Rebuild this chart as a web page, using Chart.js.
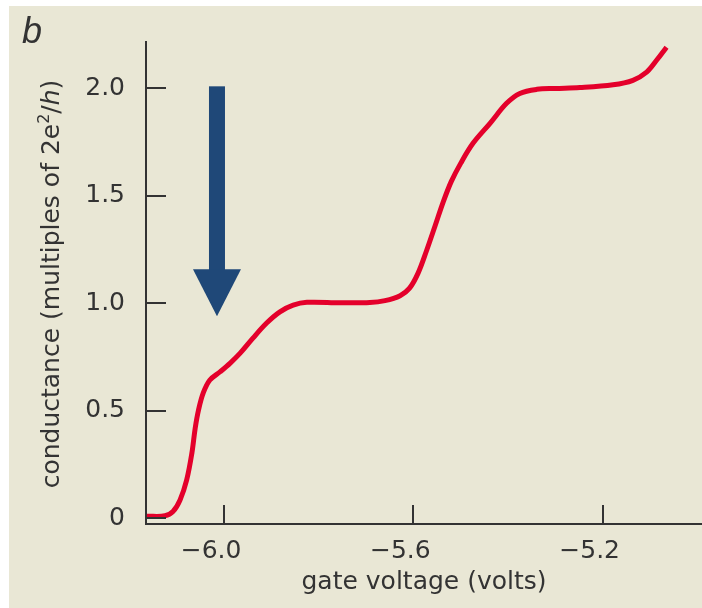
<!DOCTYPE html>
<html>
<head>
<meta charset="utf-8">
<script src="https://cdn.jsdelivr.net/npm/chart.js@4/dist/chart.umd.min.js"></script>
<style>
  html, body { margin: 0; padding: 0; background: #fff; }
  #wrap { width: 702px; height: 608px; }
</style>
</head>
<body>
<div id="wrap"><canvas id="chart" width="702" height="608"></canvas></div>
<script>
// gate voltage (volts) vs conductance (multiples of 2e^2/h)
const voltage = [
    -6.163, -6.125, -6.108, -6.093, -6.079, -6.068, -6.061, -6.054, -6.044, -6.030,
    -6.008, -5.987, -5.966, -5.939, -5.910, -5.882, -5.854, -5.825, -5.755, -5.692,
    -5.660, -5.628, -5.608, -5.590, -5.572, -5.554, -5.537, -5.520, -5.500,
    -5.474, -5.438, -5.403, -5.375, -5.339, -5.300, -5.248, -5.178, -5.136, -5.107,
    -5.086, -5.065
];
const conductance = [
    0.010, 0.012, 0.032, 0.086, 0.179, 0.304, 0.420, 0.504, 0.583, 0.643,
    0.682, 0.722, 0.768, 0.838, 0.908, 0.960, 0.991, 1.004, 1.002, 1.003,
    1.012, 1.035, 1.070, 1.140, 1.245, 1.360, 1.470, 1.565, 1.650,
    1.743, 1.836, 1.929, 1.975, 1.994, 1.998, 2.002, 2.015, 2.036, 2.074,
    2.129, 2.190
];
const xTicks = [-6.0, -5.6, -5.2];
const yTicks = [0, 0.5, 1.0, 1.5, 2.0];

// the blue arrow, in data units
const arrowX = -6.015;
const arrowFrom = 2.008;
const arrowHeadBase = 1.158;
const arrowTo = 0.94;

const INK = '#333333';
const FONT = 'DejaVu Sans';

const points = voltage.map((v, i) => ({ x: v, y: conductance[i] }));

const paperPlugin = {
    id: 'paper',
    beforeDraw(chart) {
        const ctx = chart.ctx;
        ctx.save();
        ctx.fillStyle = '#ffffff';
        ctx.fillRect(0, 0, chart.width, chart.height);
        ctx.fillStyle = '#e9e7d5';
        ctx.fillRect(9, 6, chart.width - 9, chart.height - 6);
        ctx.restore();
    }
};

// ticks point inwards in the original, Chart.js only draws them outwards
const decorPlugin = {
    id: 'decor',
    afterDatasetsDraw(chart) {
        const { ctx, chartArea, scales } = chart;
        const xs = scales.x, ys = scales.y;
        ctx.save();
        ctx.strokeStyle = INK;
        ctx.lineWidth = 2;
        yTicks.forEach(v => {
            const py = Math.round(ys.getPixelForValue(v));
            ctx.beginPath();
            ctx.moveTo(chartArea.left, py);
            ctx.lineTo(chartArea.left + 20, py);
            ctx.stroke();
        });
        xTicks.forEach(v => {
            const px = Math.round(xs.getPixelForValue(v));
            ctx.beginPath();
            ctx.moveTo(px, chartArea.bottom);
            ctx.lineTo(px, chartArea.bottom - 19);
            ctx.stroke();
        });

        // arrow
        const ax = xs.getPixelForValue(arrowX);
        const top = ys.getPixelForValue(arrowFrom);
        const base = ys.getPixelForValue(arrowHeadBase);
        const tip = ys.getPixelForValue(arrowTo);
        ctx.fillStyle = '#1f4878';
        ctx.fillRect(ax - 8, top, 16, base - top + 1);
        ctx.beginPath();
        ctx.moveTo(ax - 24, base);
        ctx.lineTo(ax + 24, base);
        ctx.lineTo(ax, tip);
        ctx.closePath();
        ctx.fill();
        ctx.restore();
    },
    afterDraw(chart) {
        const ctx = chart.ctx;
        ctx.save();
        ctx.fillStyle = INK;

        // panel letter
        ctx.font = 'italic 36px "Liberation Sans"';
        ctx.textBaseline = 'alphabetic';
        ctx.textAlign = 'left';
        ctx.fillText('b', 22, 43);

        // y axis title with superscript and italic h
        const parts = [
            { t: 'conductance (multiples of 2e', f: `25px "${FONT}"`, dy: 0 },
            { t: '2', f: `16px "${FONT}"`, dy: -10 },
            { t: '/', f: `25px "${FONT}"`, dy: 0 },
            { t: 'h', f: `italic 25px "${FONT}"`, dy: 0 },
            { t: ')', f: `25px "${FONT}"`, dy: 0 }
        ];
        let total = 0;
        parts.forEach(p => { ctx.font = p.f; p.w = ctx.measureText(p.t).width; total += p.w; });
        const cy = 284;
        ctx.translate(59, cy);
        ctx.rotate(-Math.PI / 2);
        let x = -total / 2;
        parts.forEach(p => {
            ctx.font = p.f;
            ctx.fillText(p.t, x, p.dy);
            x += p.w;
        });
        ctx.restore();
    }
};

const ctx = document.getElementById('chart').getContext('2d');
new Chart(ctx, {
    type: 'scatter',
    data: {
        datasets: [{
            data: points,
            showLine: true,
            borderColor: '#e4002b',
            borderWidth: 5,
            pointRadius: 0,
            tension: 0.35,
            fill: false
        }]
    },
    options: {
        responsive: false,
        animation: false,
        devicePixelRatio: 1,
        layout: { padding: { top: 42, left: 0, right: 0, bottom: 0 } },
        plugins: {
            legend: { display: false },
            tooltip: { enabled: false }
        },
        scales: {
            x: {
                type: 'linear',
                min: -6.165,
                max: -4.99,
                afterBuildTicks: scale => { scale.ticks = xTicks.map(v => ({ value: v })); },
                afterFit: scale => { scale.height = 84; },
                grid: { drawOnChartArea: false, drawTicks: false },
                border: { display: true, color: INK, width: 2 },
                ticks: {
                    padding: 12,
                    labelOffset: -13,
                    maxRotation: 0,
                    autoSkip: false,
                    color: INK,
                    font: { family: FONT, size: 25 },
                    callback: v => '\u2212' + Math.abs(v).toFixed(1)
                },
                title: {
                    display: true,
                    text: 'gate voltage (volts)',
                    color: INK,
                    font: { family: FONT, size: 25 },
                    padding: { top: 0, bottom: 11 }
                }
            },
            y: {
                type: 'linear',
                min: -0.026,
                max: 2.214,
                afterBuildTicks: scale => { scale.ticks = yTicks.map(v => ({ value: v })); },
                afterFit: scale => { scale.width = 146; },
                grid: { drawOnChartArea: false, drawTicks: false },
                border: { display: true, color: INK, width: 2 },
                ticks: {
                    padding: 21,
                    autoSkip: false,
                    color: INK,
                    font: { family: FONT, size: 25 },
                    callback: v => (v === 0 ? '0' : v.toFixed(1))
                }
            }
        }
    },
    plugins: [paperPlugin, decorPlugin]
});
</script>
</body>
</html>
